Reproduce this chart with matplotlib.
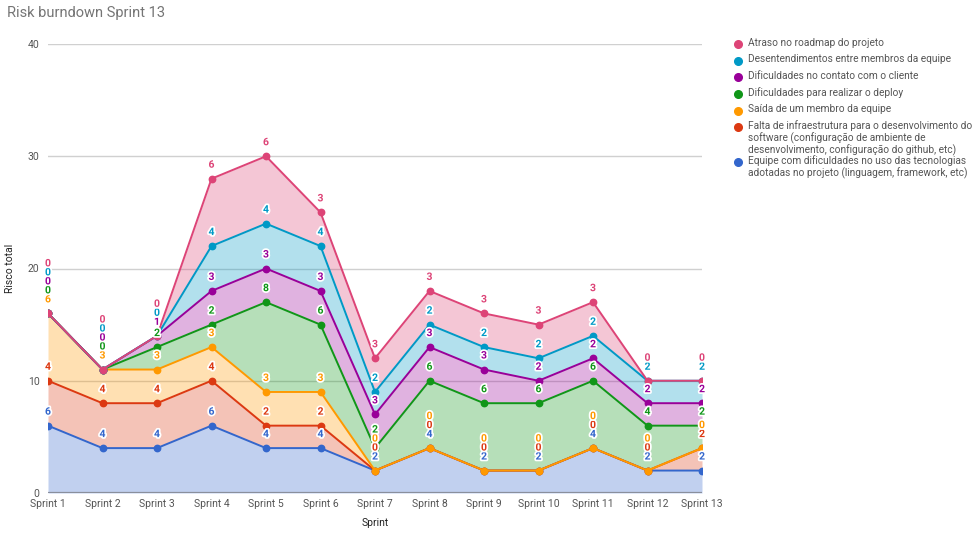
import matplotlib
matplotlib.use("Agg")
import matplotlib.pyplot as plt
import matplotlib.patheffects as pe
import numpy as np

sprints = [f"Sprint {i}" for i in range(1, 14)]

# bottom -> top stacking order
series_names = [
    "Equipe com dificuldades no uso das tecnologias\nadotadas no projeto (linguagem, framework, etc)",
    "Falta de infraestrutura para o desenvolvimento do\nsoftware (configuração de ambiente de\ndesenvolvimento, configuração do github, etc)",
    "Saída de um membro da equipe",
    "Dificuldades para realizar o deploy",
    "Dificuldades no contato com o cliente",
    "Desentendimentos entre membros da equipe",
    "Atraso no roadmap do projeto",
]
equipe = [6, 4, 4, 6, 4, 4, 2, 4, 2, 2, 4, 2, 2]
infra = [4, 4, 4, 4, 2, 2, 0, 0, 0, 0, 0, 0, 2]
saida = [6, 3, 3, 3, 3, 3, 0, 0, 0, 0, 0, 0, 0]
deploy = [0, 0, 2, 2, 8, 6, 2, 6, 6, 6, 6, 4, 2]
contato = [0, 0, 1, 3, 3, 3, 3, 3, 3, 2, 2, 2, 2]
desent = [0, 0, 0, 4, 4, 4, 2, 2, 2, 2, 2, 2, 2]
atraso = [0, 0, 0, 6, 6, 3, 3, 3, 3, 3, 3, 0, 0]

colors = ["#3366cc", "#dc3912", "#ff9900", "#109618", "#990099", "#0099c6", "#dd4477"]
data = [equipe, infra, saida, deploy, contato, desent, atraso]

plt.rcParams["font.family"] = ["Roboto", "DejaVu Sans"]

fig = plt.figure(figsize=(9.8, 5.37), dpi=100)
ax = fig.add_axes([48 / 980, 44 / 537, (702 - 48) / 980, 449 / 537])
x = np.arange(len(sprints))
ax.set_xlim(0, len(sprints) - 1)
ax.set_ylim(0, 40)

for yv in [10, 20, 30, 40]:
    ax.axhline(yv, color="#d0d0d0", lw=1, zorder=0)

cum = np.zeros(len(sprints))
tops = []
for vals, col in zip(data, colors):
    v = np.array(vals, dtype=float)
    ax.fill_between(x, cum, cum + v, color=col, alpha=0.3, lw=0, zorder=1)
    cum = cum + v
    tops.append(cum.copy())

for i, (top, col) in enumerate(zip(tops, colors)):
    ax.plot(x, top, color=col, lw=1.4, zorder=3 + i * 0.1)
    ax.plot(x, top, "o", color=col, ms=4.6, zorder=3.05 + i * 0.1)

ax.axhline(0, color="#8a8f9c", lw=1.6, zorder=2.5)

# data labels with simple collision avoidance (pixel space)
fig.canvas.draw()
inv = ax.transData.inverted()
for j in range(len(sprints)):
    prev = None
    for k, (vals, top, col) in enumerate(zip(data, tops, colors)):
        px, py = ax.transData.transform((x[j], top[j]))
        want = py + 14
        if prev is not None and want < prev + 9:
            want = prev + 9
        prev = want
        _, yd = inv.transform((px, want))
        ax.text(x[j], yd, str(vals[j]), color=col, fontsize=7.5, fontweight="bold",
                ha="center", va="center", zorder=10, clip_on=False,
                path_effects=[pe.withStroke(linewidth=2.5, foreground="white")])

for s in ax.spines.values():
    s.set_visible(False)
ax.set_xticks(x)
ax.set_xticklabels(sprints, fontsize=7.5, color="#555555")
ax.set_yticks([0, 10, 20, 30, 40])
ax.set_yticklabels(["0", "10", "20", "30", "40"], fontsize=7.5, color="#555555")
ax.tick_params(length=0, pad=4)
ax.tick_params(axis="y", pad=6)

fig.text(375 / 980, 1 - 523 / 537, "Sprint", ha="center", va="center", fontsize=7.5, color="#222222")
fig.text(10 / 980, 1 - 268 / 537, "Risco total", ha="center", va="center", rotation=90,
         fontsize=7.5, color="#222222")
fig.text(7 / 980, 1 - 13 / 537, "Risk burndown Sprint 13", ha="left", va="center",
         fontsize=10.5, color="#757575")

# legend (top to bottom)
leg_y = [44, 61, 77, 94, 111, 127, 162]
order = list(range(len(series_names)))[::-1]
for yy, k in zip(leg_y, order):
    fig.add_artist(plt.Line2D([738 / 980], [1 - yy / 537], marker="o", ms=5.5, lw=0,
                              color=colors[k], transform=fig.transFigure))
    fig.text(748 / 980, 1 - (yy - 6.5) / 537, series_names[k], ha="left", va="top",
             fontsize=7.3, color="#555555", linespacing=1.08)

fig.savefig("out.png", dpi=100)
